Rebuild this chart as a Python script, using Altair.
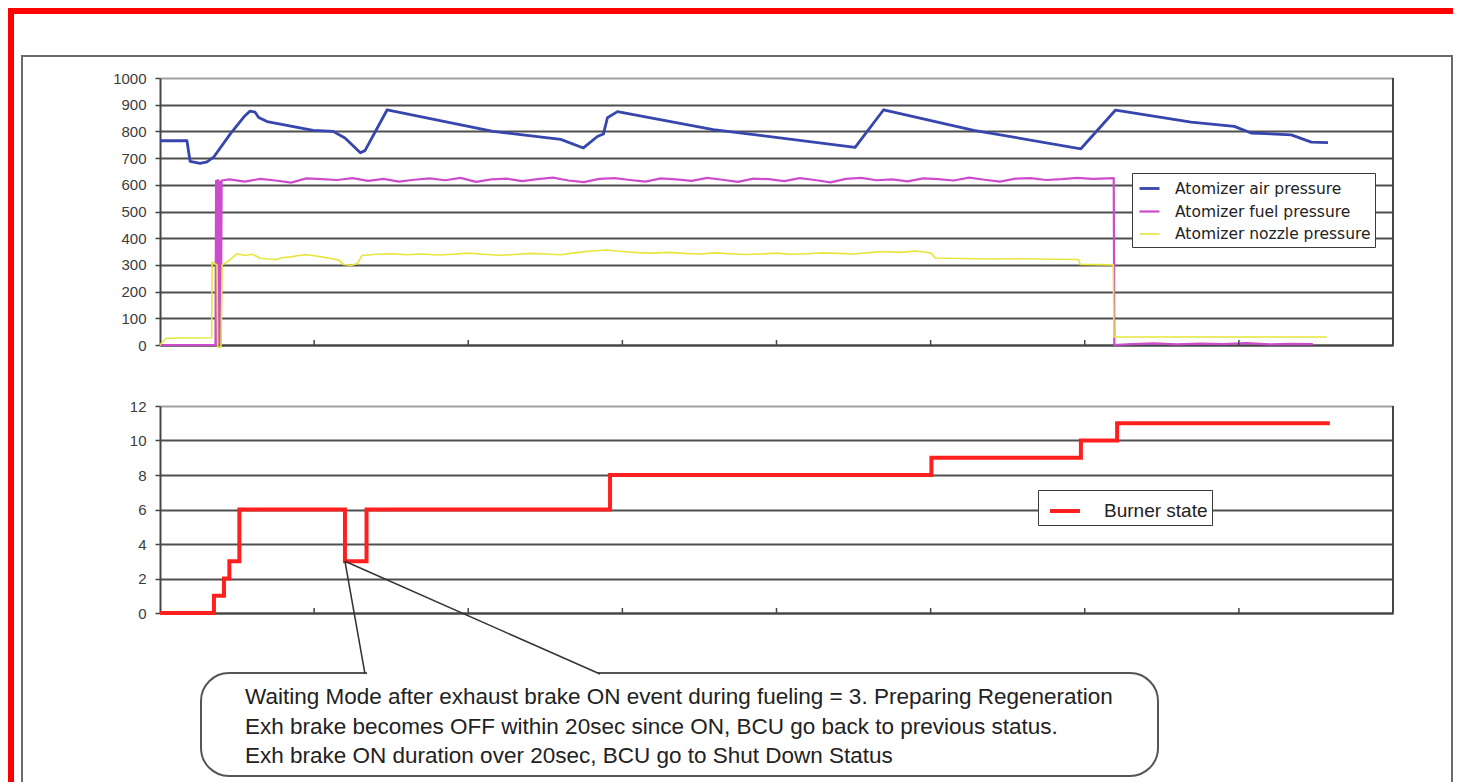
import altair as alt
import pandas as pd

# ---------------- data ----------------
x_ticks = [100, 200, 300, 400, 500, 600, 700]
top_y_values = [0, 100, 200, 300, 400, 500, 600, 700, 800, 900, 1000]
bottom_y_values = [0, 2, 4, 6, 8, 10, 12]

series_names = ["Atomizer air pressure", "Atomizer fuel pressure", "Atomizer nozzle pressure"]
series_colors = ["#3646ad", "#cc4ccc", "#e6e63c"]
series_widths = [2.8, 1.6, 2.6]

air_t = [0, 17.5, 19.5, 26, 30.5, 35, 45.5, 55, 58.4, 61.7,
         64, 69.5, 99.4, 112.3, 120, 130, 133, 147.4, 216, 260,
         274.7, 283.8, 287.7, 290.3, 296.8, 359, 451, 469.5, 528, 597.5,
         620, 669, 697, 708, 734, 747, 757.8]
air_v = [765, 765, 688, 680, 686, 705, 790, 858, 876, 872,
         852, 837, 804, 800, 775, 720, 728, 881, 800, 770,
         738, 781, 790, 851, 874, 807, 740, 881, 804, 735,
         880, 835, 819, 794, 787, 760, 758]

fuel_t = ([0, 36.0, 36.4, 37.0, 37.6, 38.2, 38.8, 39.4, 40.0]
          + list(range(45, 616, 10))
          + [618.8, 619.2, 630, 645, 660, 675, 690, 705, 720, 735, 748])
fuel_v = ([0, 0, 615, 2, 618, 4, 612, 0, 616]
          + [620, 612, 622, 616, 608, 624, 621, 618, 625, 615,
             622, 612, 619, 624, 617, 626, 611, 620, 623, 614,
             621, 627, 616, 610, 622, 625, 618, 612, 624, 620,
             615, 626, 619, 611, 623, 621, 614, 625, 618, 609,
             622, 626, 617, 620, 613, 624, 621, 616, 627, 619,
             612, 623, 625, 618, 621, 626, 622, 624]
          + [625, 0, 3, 6, 2, 5, 3, 7, 2, 4, 3])

nozzle_t = ([0, 4, 33.5, 33.8, 37.0, 37.4, 39.6, 40.3, 44, 50,
             55, 60, 65, 70, 75, 80, 85, 90, 95, 100,
             105, 110, 116, 119, 124, 128, 131]
            + list(range(140, 501, 10))
            + [503, 520, 540, 560, 580, 596, 597, 618.5, 619, 757])
nozzle_v = ([0, 25, 27, 310, 300, -8, -8, 300, 312, 342,
             335, 340, 325, 322, 320, 328, 330, 335, 338, 334,
             330, 325, 318, 302, 298, 305, 335]
            + [340, 342, 338, 341, 337, 340, 344, 340, 336, 339,
               343, 341, 338, 346, 352, 356, 350, 346, 344, 347,
               343, 341, 345, 342, 339, 341, 344, 340, 342, 345,
               343, 341, 346, 350, 347, 352, 345]
            + [326, 324, 322, 323, 321, 320, 302, 300, 30, 30])

burner_name = "Burner state"
burner_t = [0, 35, 41.5, 45, 51.5, 120, 134, 292, 500.5, 597.5, 621, 759]
burner_v = [0, 1, 2, 3, 6, 3, 6, 8, 9, 10, 11, 11]

callout_anchor_t = [120]
callout_anchor_v = [3]
callout_lines = [
    "Waiting Mode after exhaust brake ON event during fueling = 3. Preparing Regeneration",
    "Exh brake becomes OFF within 20sec since ON, BCU go back to previous status.",
    "Exh brake ON duration over 20sec, BCU go to Shut Down Status",
]

# ---------------- layout constants ----------------
W = 1233
H_TOP = 267
H_BOT = 207
AXIS_DARK = "#464646"
GRID_DARK = "#4f4f4f"


def rows(name, ts, vs):
    return pd.DataFrame({"t": ts, "v": vs, "series": name, "i": list(range(len(ts)))})


top_df = pd.concat([
    rows(series_names[0], air_t, air_v),
    rows(series_names[1], fuel_t, fuel_v),
    rows(series_names[2], nozzle_t, nozzle_v),
], ignore_index=True)
burner_df = rows(burner_name, burner_t, burner_v)
tick_df = pd.DataFrame({"t": x_ticks})
one = pd.DataFrame({"a": [0]})
anchor_df = pd.DataFrame({"t": callout_anchor_t, "v": callout_anchor_v})

x_scale = alt.Scale(domain=[0, 800], nice=False, zero=False)
X_AXIS = alt.Axis(title=None, labels=False, ticks=False, grid=False,
                  domainColor=AXIS_DARK, domainWidth=2)


def x_enc():
    return alt.X("t:Q", scale=x_scale, axis=X_AXIS)


def y_axis(values, top_value):
    return alt.Axis(values=values, title=None, grid=True, gridWidth=2, format="d",
                    gridColor={"condition": {"test": f"datum.value === {top_value}", "value": "#a0a0a0"},
                               "value": GRID_DARK},
                    domainColor=AXIS_DARK, domainWidth=2, tickColor=AXIS_DARK,
                    tickSize=5, tickWidth=1.5, labelFont="Liberation Sans",
                    labelFontSize=15, labelColor="#3c3c3c", labelPadding=9)


def prule(x, y, x2=None, y2=None, color="#000", sw=1.0):
    enc = dict(x=alt.value(x), y=alt.value(y))
    if x2 is not None:
        enc["x2"] = alt.value(x2)
    if y2 is not None:
        enc["y2"] = alt.value(y2)
    return alt.Chart(one).mark_rule(color=color, strokeWidth=sw, strokeCap="butt").encode(**enc)


def prect(x, x2, y, y2, color):
    return alt.Chart(one).mark_rect(fill=color, strokeWidth=0).encode(
        x=alt.value(x), x2=alt.value(x2), y=alt.value(y), y2=alt.value(y2))


# ---------------- top panel ----------------
top_scale_y = alt.Scale(domain=[0, 1000], nice=False, zero=False)
TOP_Y_AXIS = y_axis(top_y_values, 1000)
top_lines = alt.Chart(top_df).mark_line(strokeJoin="round").encode(
    x=x_enc(),
    y=alt.Y("v:Q", scale=top_scale_y, axis=TOP_Y_AXIS),
    color=alt.Color("series:N",
                    scale=alt.Scale(domain=series_names, range=series_colors),
                    legend=alt.Legend(title=None, orient="none", legendX=972, legendY=95,
                                      fillColor="white", strokeColor="#3a3a3a", padding=4,
                                      symbolType="stroke", symbolSize=400, symbolStrokeWidth=2,
                                      symbolOffset=2, labelOffset=14, rowPadding=3,
                                      labelLimit=400,
                                      labelFont="DejaVu Sans", labelFontSize=15.5,
                                      labelColor="#222222")),
    strokeWidth=alt.StrokeWidth("series:N",
                                scale=alt.Scale(domain=series_names, range=series_widths),
                                legend=None),
    order="i:Q",
)
top_ticks = alt.Chart(tick_df).mark_rule(color=AXIS_DARK, strokeWidth=1.5).encode(
    x=x_enc(), y=alt.value(H_TOP - 5), y2=alt.value(H_TOP))
top_border = prule(W, 0, y2=H_TOP, color=AXIS_DARK, sw=2)

# frame decorations (pixel positions relative to the top panel; page = panel + (160, 78))
red_top = prect(-152, 1293, -70, -64, "#ff0000")
red_left = prect(-152, -146, -70, 720, "#ff0000")
gray_top = prect(-139, 1293, -23, -21, "#6b6b6b")
gray_left = prect(-139, -137, -23, 720, "#6b6b6b")
gray_right = prect(1291, 1293, -23, 720, "#6b6b6b")

top = alt.layer(red_top, red_left, gray_top, gray_left, gray_right,
                top_lines, top_ticks, top_border).properties(width=W, height=H_TOP)

# ---------------- bottom panel ----------------
bot_scale_y = alt.Scale(domain=[0, 12], nice=False, zero=False)
BOT_Y_AXIS = y_axis(bottom_y_values, 12)
burner_line = alt.Chart(burner_df).mark_line(interpolate="step-after", strokeWidth=4).encode(
    x=x_enc(),
    y=alt.Y("v:Q", scale=bot_scale_y, axis=BOT_Y_AXIS),
    color=alt.Color("series:N",
                    scale=alt.Scale(domain=[burner_name], range=["#ff1f1f"]),
                    legend=alt.Legend(title=None, orient="none", legendX=878, legendY=84,
                                      fillColor="white", strokeColor="#3a3a3a", padding=4,
                                      symbolType="stroke", symbolSize=900, symbolStrokeWidth=4,
                                      symbolOffset=6, labelOffset=22, labelLimit=400,
                                      labelFont="Liberation Sans", labelFontSize=19,
                                      labelColor="#222222")),
    order="i:Q",
)
bot_ticks = alt.Chart(tick_df).mark_rule(color=AXIS_DARK, strokeWidth=1.5).encode(
    x=x_enc(), y=alt.value(H_BOT - 5), y2=alt.value(H_BOT))
bot_border = prule(W, 0, y2=H_BOT, color=AXIS_DARK, sw=2)

bubble = alt.Chart(one).mark_rect(cornerRadius=28, fill="white", stroke="#555555",
                                  strokeWidth=2).encode(
    x=alt.value(41), x2=alt.value(998), y=alt.value(267), y2=alt.value(370))
bubble_gap = prule(207, 267, x2=438, color="white", sw=4)
pointer_left = alt.Chart(anchor_df).mark_rule(color="#333333", strokeWidth=1.5).encode(
    x=x_enc(), y=alt.Y("v:Q", scale=bot_scale_y, axis=BOT_Y_AXIS),
    x2=alt.value(205), y2=alt.value(268))
pointer_right = alt.Chart(anchor_df).mark_rule(color="#333333", strokeWidth=1.5).encode(
    x=x_enc(), y=alt.Y("v:Q", scale=bot_scale_y, axis=BOT_Y_AXIS),
    x2=alt.value(440), y2=alt.value(268))

text_layers = []
for line, ypix in zip(callout_lines, [291, 321, 350]):
    text_layers.append(
        alt.Chart(pd.DataFrame({"label": [line]})).mark_text(
            align="left", baseline="middle", font="Liberation Sans",
            fontSize=22.5, color="#222222").encode(
            text="label:N", x=alt.value(85), y=alt.value(ypix)))

bottom = alt.layer(burner_line, bot_ticks, bot_border, bubble, bubble_gap,
                   pointer_left, pointer_right, *text_layers).properties(width=W, height=H_BOT)

chart = alt.vconcat(top, bottom, spacing=61, bounds="flush").resolve_scale(
    color="independent", strokeWidth="independent"
).properties(padding=0, background="white").configure_view(stroke=None)

chart.save("out.html", embed_options={"renderer": "svg", "actions": False})
